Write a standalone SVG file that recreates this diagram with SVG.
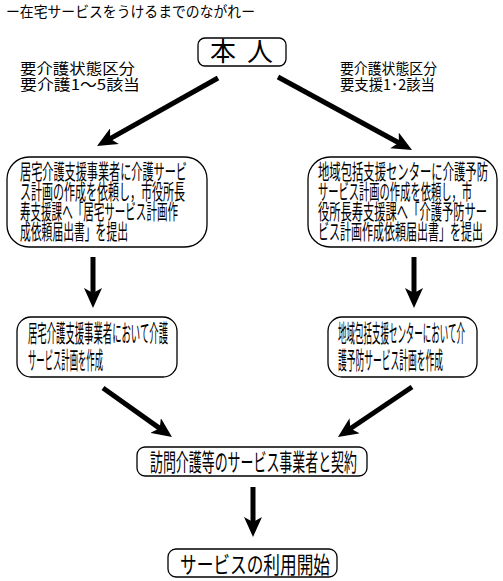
<svg xmlns="http://www.w3.org/2000/svg" width="503" height="581" viewBox="0 0 503 581">
<style>
.box{fill:#fff;stroke:#000;stroke-width:1.3}
.t{font-family:"Noto Sans CJK JP","Noto Sans",sans-serif;fill:#000}
.arr{stroke:#000;stroke-width:5;fill:none;marker-end:url(#ah)}
</style>
<defs>
<marker id="ah" markerUnits="userSpaceOnUse" markerWidth="20" markerHeight="18" viewBox="0 0 20 18" refX="8" refY="9" orient="auto">
<path d="M0,0 L20,9 L0,18 L5,9 Z" fill="#000"/>
</marker>
</defs>
<rect width="503" height="581" fill="#fff"/>
<text class="t" x="6" y="17" font-size="14.5" textLength="249" lengthAdjust="spacingAndGlyphs">ー在宅サービスをうけるまでのながれー</text>
<g id="label-left">
<text class="t" x="20" y="74" font-size="15" textLength="115" lengthAdjust="spacingAndGlyphs">要介護状態区分</text>
<text class="t" x="20" y="90" font-size="15" textLength="120" lengthAdjust="spacingAndGlyphs">要介護1～5該当</text>
</g>
<g id="label-right">
<text class="t" x="340" y="74" font-size="15" textLength="97" lengthAdjust="spacingAndGlyphs">要介護状態区分</text>
<text class="t" x="340" y="90" font-size="15" textLength="95" lengthAdjust="spacingAndGlyphs">要支援1･2該当</text>
</g>
<g id="connectors">
<line class="arr" x1="218" y1="78" x2="107.5" y2="140.1"/>
<line class="arr" x1="278" y1="77" x2="401.5" y2="144.3"/>
<line class="arr" x1="93" y1="257" x2="93" y2="296"/>
<line class="arr" x1="414" y1="257" x2="414" y2="296"/>
<line class="arr" x1="103" y1="388" x2="162.2" y2="430.1"/>
<line class="arr" x1="412" y1="387" x2="347.9" y2="430.3"/>
<line class="arr" x1="253" y1="487" x2="253" y2="525"/>
</g>
<g id="honnin">
<rect class="box" x="198" y="38" width="88" height="28" rx="7"/>
<text class="t" x="210" y="61" font-size="26" textLength="63" lengthAdjust="spacing">本人</text>
</g>
<g id="box-left-1">
<rect class="box" x="7" y="157" width="200" height="90" rx="22"/>
<g font-size="21">
<text class="t" x="20" y="179" textLength="167" lengthAdjust="spacingAndGlyphs">居宅介護支援事業者に介護サービ</text>
<text class="t" x="20" y="199" textLength="165" lengthAdjust="spacingAndGlyphs">ス計画の作成を依頼し，市役所長</text>
<text class="t" x="20" y="219" textLength="158" lengthAdjust="spacingAndGlyphs">寿支援課へ「居宅サービス計画作</text>
<text class="t" x="20" y="239" textLength="108" lengthAdjust="spacingAndGlyphs">成依頼届出書」を提出</text>
</g>
</g>
<g id="box-right-1">
<rect class="box" x="308" y="157" width="189" height="90" rx="22"/>
<g font-size="21">
<text class="t" x="318" y="179" textLength="170" lengthAdjust="spacingAndGlyphs">地域包括支援センターに介護予防</text>
<text class="t" x="318" y="199" textLength="154" lengthAdjust="spacingAndGlyphs">サービス計画の作成を依頼し，市</text>
<text class="t" x="318" y="219" textLength="169" lengthAdjust="spacingAndGlyphs">役所長寿支援課へ「介護予防サー</text>
<text class="t" x="318" y="239" textLength="165" lengthAdjust="spacingAndGlyphs">ビス計画作成依頼届出書」を提出</text>
</g>
</g>
<g id="box-left-2">
<rect class="box" x="17" y="317" width="160" height="60" rx="14"/>
<g font-size="24">
<text class="t" x="28" y="342" textLength="140" lengthAdjust="spacingAndGlyphs">居宅介護支援事業者において介護</text>
<text class="t" x="28" y="369" textLength="75" lengthAdjust="spacingAndGlyphs">サービス計画を作成</text>
</g>
</g>
<g id="box-right-2">
<rect class="box" x="328" y="317" width="149" height="60" rx="14"/>
<g font-size="24">
<text class="t" x="338" y="342" textLength="127" lengthAdjust="spacingAndGlyphs">地域包括支援センターにおいて介</text>
<text class="t" x="338" y="369" textLength="105" lengthAdjust="spacingAndGlyphs">護予防サービス計画を作成</text>
</g>
</g>
<g id="box-contract">
<rect class="box" x="137" y="447" width="230" height="29" rx="8"/>
<text class="t" x="150" y="471" font-size="24" textLength="207" lengthAdjust="spacingAndGlyphs">訪問介護等のサービス事業者と契約</text>
</g>
<g id="box-start">
<rect class="box" x="168" y="549" width="169" height="28" rx="8"/>
<text class="t" x="180" y="573" font-size="23" textLength="150" lengthAdjust="spacingAndGlyphs">サービスの利用開始</text>
</g>
</svg>
